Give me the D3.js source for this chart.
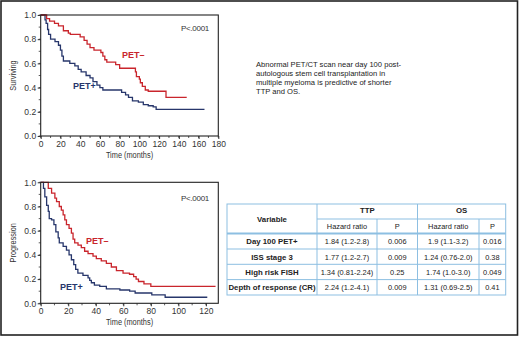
<!DOCTYPE html>
<html>
<head>
<meta charset="utf-8">
<script src="https://cdn.jsdelivr.net/npm/d3@7"></script>
<style>
  html, body { margin: 0; padding: 0; background: #fff; }
  svg { display: block; font-family: "Liberation Sans", Arial, sans-serif; }
  .narrow { font-family: "Liberation Sans Narrow", "Arial Narrow", "Liberation Sans", sans-serif; }
</style>
</head>
<body>
<svg id="fig" width="520" height="337"></svg>
<script>
// overall survival (top panel)
const osNegMonths = [0, 6, 9, 14, 18, 23, 28, 30, 40, 44, 47, 50, 54, 61, 63, 65, 67, 76, 80, 96, 97, 100, 101, 103, 106, 109, 112, 127, 148];
const osNegSurv   = [1.0, 0.97, 0.95, 0.93, 0.91, 0.87, 0.85, 0.84, 0.82, 0.79, 0.76, 0.73, 0.71, 0.69, 0.66, 0.63, 0.61, 0.59, 0.56, 0.53, 0.49, 0.47, 0.44, 0.41, 0.38, 0.37, 0.37, 0.32, 0.32];
const osPosMonths = [0, 4.4, 5.5, 7, 8, 10, 14.5, 18, 20, 21.5, 23, 29.5, 34.6, 38, 41, 46, 50, 53, 57, 60, 63, 82, 86, 89, 93, 99, 104, 109, 114, 117, 166];
const osPosSurv   = [1.0, 0.96, 0.93, 0.88, 0.84, 0.80, 0.78, 0.75, 0.71, 0.66, 0.62, 0.60, 0.58, 0.55, 0.53, 0.50, 0.48, 0.45, 0.42, 0.40, 0.38, 0.36, 0.34, 0.32, 0.29, 0.28, 0.26, 0.25, 0.24, 0.22, 0.22];

// progression (bottom panel)
const ttpNegMonths = [0, 5.5, 7.9, 10.3, 11.5, 13.5, 15, 16.3, 17.5, 18.7, 20.6, 22.3, 23.5, 24.7, 27.1, 29.5, 31.9, 34.4, 38, 40.4, 44, 47.7, 51.3, 55, 59.8, 64.5, 67.5, 69.3, 71, 75, 80, 127];
const ttpNegSurv   = [1.0, 0.95, 0.91, 0.87, 0.84, 0.80, 0.77, 0.73, 0.69, 0.65, 0.62, 0.58, 0.53, 0.50, 0.48, 0.46, 0.43, 0.41, 0.39, 0.37, 0.35, 0.33, 0.30, 0.27, 0.25, 0.24, 0.22, 0.20, 0.18, 0.16, 0.14, 0.14];
const ttpPosMonths = [0, 2, 3, 4.3, 5.5, 6.2, 7.9, 9.6, 11, 12.7, 13.5, 16.3, 18.7, 20.6, 22.3, 24, 25.4, 27, 30.7, 34.4, 35.6, 36.8, 39, 42.9, 47.7, 57.5, 64.6, 68.6, 80.7, 90.4, 121];
const ttpPosSurv   = [1.0, 0.95, 0.88, 0.81, 0.76, 0.70, 0.69, 0.65, 0.59, 0.54, 0.50, 0.47, 0.44, 0.40, 0.36, 0.32, 0.28, 0.25, 0.23, 0.21, 0.19, 0.17, 0.15, 0.14, 0.12, 0.11, 0.10, 0.085, 0.07, 0.05, 0.05];

const yTicks = [0, 0.2, 0.4, 0.6, 0.8, 1.0];
const osXTicks = [0, 20, 40, 60, 80, 100, 120, 140, 160, 180];
const ttpXTicks = [0, 20, 40, 60, 80, 100, 120];

const summary = [
  "Abnormal PET/CT scan near day 100 post-",
  "autologous stem cell transplantation in",
  "multiple myeloma is predictive of shorter",
  "TTP and OS."
];

const variables = ["Day 100 PET+", "ISS stage 3", "High risk FISH", "Depth of response (CR)"];
const ttpHR = ["1.84 (1.2-2.8)", "1.77 (1.2-2.7)", "1.34 (0.81-2.24)", "2.24 (1.2-4.1)"];
const ttpP  = ["0.006", "0.009", "0.25", "0.009"];
const osHR  = ["1.9 (1.1-3.2)", "1.24 (0.76-2.0)", "1.74 (1.0-3.0)", "1.31 (0.69-2.5)"];
const osP   = ["0.016", "0.38", "0.049", "0.41"];

const red = "#c9252c";
const blue = "#27366b";
const tableLine = "#8dbfe2";

const svg = d3.select("#fig");

// outer frame
svg.append("rect")
  .attr("x", 1).attr("y", 1)
  .attr("width", 516.5).attr("height", 334)
  .attr("fill", "none")
  .attr("stroke", "#222")
  .attr("stroke-width", 1.6);

function drawPanel(opts) {
  const { left, top, width, height, xMax, xTicks, yLabel, neg, pos, negLabel, posLabel, pLabel } = opts;
  const x = d3.scaleLinear().domain([0, xMax]).range([left, left + width]);
  const y = d3.scaleLinear().domain([0, 1]).range([top + height, top]);
  const g = svg.append("g");

  // minor ticks
  const minorX = d3.range(0, xMax + 0.1, 10);
  g.selectAll(".mx").data(minorX).enter().append("line")
    .attr("x1", d => x(d)).attr("x2", d => x(d))
    .attr("y1", top + height).attr("y2", top + height + 2)
    .attr("stroke", "#333").attr("stroke-width", 0.8);
  g.selectAll(".my").data(d3.range(0, 1.01, 0.1)).enter().append("line")
    .attr("x1", left - 2).attr("x2", left)
    .attr("y1", d => y(d)).attr("y2", d => y(d))
    .attr("stroke", "#333").attr("stroke-width", 0.8);

  const xAxis = d3.axisBottom(x).tickValues(xTicks).tickSize(3).tickPadding(2).tickFormat(d3.format("d"));
  const yAxis = d3.axisLeft(y).tickValues(yTicks).tickSize(3).tickPadding(1.5).tickFormat(d3.format(".1f"));

  g.append("g").attr("transform", `translate(0,${top + height})`).call(xAxis)
    .call(a => a.select(".domain").remove())
    .selectAll("text").attr("font-size", 8.5).attr("fill", "#333").attr("font-family", "Liberation Sans, Arial, sans-serif");
  g.append("g").attr("transform", `translate(${left},0)`).call(yAxis)
    .call(a => a.select(".domain").remove())
    .selectAll("text").attr("font-size", 8.5).attr("fill", "#333").attr("font-family", "Liberation Sans, Arial, sans-serif");
  g.selectAll(".tick line").attr("stroke", "#333");

  const line = d3.line().x(d => x(d[0])).y(d => y(d[1])).curve(d3.curveStepAfter);
  g.append("path").datum(d3.zip(pos.months, pos.surv))
    .attr("d", line).attr("fill", "none").attr("stroke", blue).attr("stroke-width", 1.3);
  g.append("path").datum(d3.zip(neg.months, neg.surv))
    .attr("d", line).attr("fill", "none").attr("stroke", red).attr("stroke-width", 1.3);

  // plot box
  g.append("rect")
    .attr("x", left).attr("y", top).attr("width", width).attr("height", height)
    .attr("fill", "none").attr("stroke", "#222").attr("stroke-width", 1.1);

  g.append("text").attr("class", "narrow")
    .attr("x", left + width / 2).attr("y", top + height + 22)
    .attr("text-anchor", "middle").attr("font-size", 9).attr("fill", "#333")
    .attr("transform", `translate(${left + width / 2},0) scale(0.82,1) translate(${-(left + width / 2)},0)`)
    .text("Time (months)");
  g.append("text").attr("class", "narrow")
    .attr("transform", `translate(16,${top + height / 2}) rotate(-90) scale(0.82,1)`)
    .attr("text-anchor", "middle").attr("font-size", 9).attr("fill", "#333")
    .text(yLabel);

  g.append("text").attr("x", negLabel[0]).attr("y", negLabel[1])
    .attr("font-size", 9).attr("font-weight", "bold").attr("fill", red).text("PET\u2013");
  g.append("text").attr("x", posLabel[0]).attr("y", posLabel[1])
    .attr("font-size", 9).attr("font-weight", "bold").attr("fill", blue).text("PET+");
  g.append("text").attr("x", pLabel[0]).attr("y", pLabel[1])
    .attr("font-size", 8).attr("fill", "#333").attr("letter-spacing", -0.3).text("P<.0001");
}

drawPanel({
  left: 40.7, top: 15, width: 177.6, height: 121, xMax: 180, xTicks: osXTicks,
  yLabel: "Surviving",
  neg: { months: osNegMonths, surv: osNegSurv },
  pos: { months: osPosMonths, surv: osPosSurv },
  negLabel: [122, 58], posLabel: [73, 89], pLabel: [181, 31]
});

drawPanel({
  left: 40.7, top: 182.3, width: 177.6, height: 121, xMax: 129, xTicks: ttpXTicks,
  yLabel: "Progression",
  neg: { months: ttpNegMonths, surv: ttpNegSurv },
  pos: { months: ttpPosMonths, surv: ttpPosSurv },
  negLabel: [86, 244], posLabel: [60, 290], pLabel: [181, 201]
});

// summary text
svg.append("g").selectAll("text").data(summary).enter().append("text")
  .attr("x", 256).attr("y", (d, i) => 67 + i * 9)
  .attr("font-size", 7.6).attr("fill", "#222")
  .text(d => d);

// table
const colX = [227, 317, 377, 417.5, 479, 505.7];
const rowY = [204, 219, 233.5, 249, 264.3, 279.6, 295];
const tg = svg.append("g");
const hline = (x1, x2, yy, w) => tg.append("line").attr("x1", x1).attr("x2", x2).attr("y1", yy).attr("y2", yy)
  .attr("stroke", tableLine).attr("stroke-width", w || 1);
const vline = (xx, y1, y2) => tg.append("line").attr("x1", xx).attr("x2", xx).attr("y1", y1).attr("y2", y2)
  .attr("stroke", tableLine).attr("stroke-width", 1);

tg.append("rect").attr("x", colX[0]).attr("y", rowY[0])
  .attr("width", colX[5] - colX[0]).attr("height", rowY[6] - rowY[0])
  .attr("fill", "none").attr("stroke", tableLine).attr("stroke-width", 1);
hline(colX[1], colX[5], rowY[1]);
hline(colX[0], colX[5], rowY[2], 1.8);
for (let r = 3; r < 6; r++) hline(colX[0], colX[5], rowY[r]);
vline(colX[1], rowY[0], rowY[6]);
vline(colX[3], rowY[0], rowY[6]);
vline(colX[2], rowY[1], rowY[6]);
vline(colX[4], rowY[1], rowY[6]);

const cellText = (txt, cx, cy, bold) => tg.append("text")
  .attr("x", cx).attr("y", cy).attr("text-anchor", "middle")
  .attr("font-size", bold ? 7.8 : 7.4).attr("font-weight", bold ? "bold" : "normal")
  .attr("fill", "#222").text(txt);

const mid = (a, b) => (a + b) / 2;
cellText("Variable", mid(colX[0], colX[1]), mid(rowY[0], rowY[2]) + 3, true);
cellText("TTP", mid(colX[1], colX[3]), mid(rowY[0], rowY[1]) + 1.5, true);
cellText("OS", mid(colX[3], colX[5]), mid(rowY[0], rowY[1]) + 1.5, true);
cellText("Hazard ratio", mid(colX[1], colX[2]), mid(rowY[1], rowY[2]) + 3, false);
cellText("P", mid(colX[2], colX[3]), mid(rowY[1], rowY[2]) + 3, false);
cellText("Hazard ratio", mid(colX[3], colX[4]), mid(rowY[1], rowY[2]) + 3, false);
cellText("P", mid(colX[4], colX[5]), mid(rowY[1], rowY[2]) + 3, false);

variables.forEach((v, i) => {
  const cy = mid(rowY[i + 2], rowY[i + 3]) + 3;
  cellText(v, mid(colX[0], colX[1]), cy, true);
  cellText(ttpHR[i], mid(colX[1], colX[2]), cy, false);
  cellText(ttpP[i], mid(colX[2], colX[3]), cy, false);
  cellText(osHR[i], mid(colX[3], colX[4]), cy, false);
  cellText(osP[i], mid(colX[4], colX[5]), cy, false);
});
</script>
</body>
</html>
